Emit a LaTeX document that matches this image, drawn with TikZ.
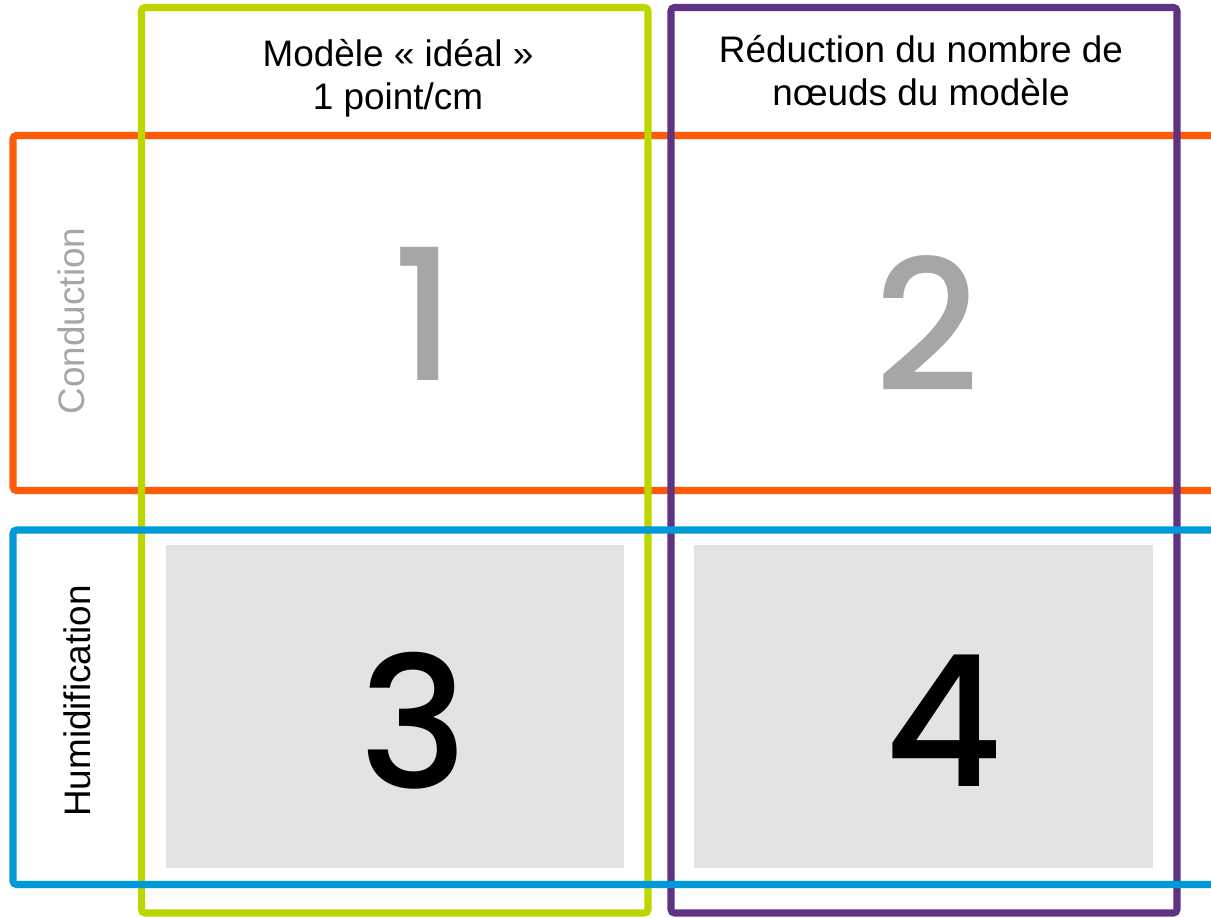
\documentclass[tikz,border=0pt]{standalone}
\usepackage{fontspec}
\setmainfont{Liberation Sans}
\newfontfamily\digitfont{Poppins Medium}
\usetikzlibrary{positioning}
\definecolor{vertC}{RGB}{190,214,0}
\definecolor{violetC}{RGB}{95,50,131}
\definecolor{orangeC}{RGB}{255,90,10}
\definecolor{bleuC}{RGB}{0,154,218}
\definecolor{grisC}{RGB}{227,227,227}
\definecolor{chiffreC}{RGB}{166,166,166}
\tikzstyle{cadre}=[line width=4pt,rounded corners=2pt]
\tikzstyle{titre}=[align=center,font=\fontsize{21}{24.5}\selectfont]
\tikzstyle{cote}=[titre,rotate=90]
\tikzstyle{chiffre}=[font=\digitfont\fontsize{104}{104}\selectfont]

\begin{document}
\begin{tikzpicture}[x=0.02cm,y=-0.02cm]
\useasboundingbox (0,0) rectangle (1211,917);
\clip (0,0) rectangle (1211,917);
        % cases grises
        \fill[grisC] (166,545) rectangle (624,868);
        \fill[grisC] (694,545) rectangle (1153,868);
        % lignes et colonnes
        \draw[cadre,orangeC] (13,135.5) rectangle (1240,490.5);
        \draw[cadre,vertC] (141.5,7.5) rectangle (648,913);
        \draw[cadre,violetC] (671,7.5) rectangle (1177,913);
        \draw[cadre,bleuC] (13,530) rectangle (1240,884.5);
        % titres
        \node[titre] (ideal) at (398,78) {Mod\`ele \guillemotleft~id\'eal~\guillemotright\\1 point/cm};
        \node[titre] (reduc) at (921,71) {R\'eduction du nombre de\\n\oe uds du mod\`ele};
        \node[cote,text=chiffreC] (cond) at (71,321) {Conduction};
        \node[cote] (humi) at (77,701) {Humidification};
        % numeros
        \node[chiffre,text=chiffreC] (un) at (424,314) {1};
        \node[chiffre,text=chiffreC] (deux) at (927,324) {2};
        \node[chiffre] (trois) at (414,721) {3};
        \node[chiffre] (quatre) at (944,721) {4};
      \end{tikzpicture}
\end{document}
